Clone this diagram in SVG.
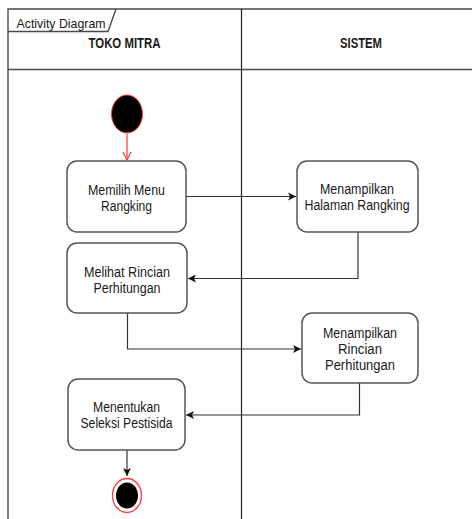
<svg xmlns="http://www.w3.org/2000/svg" width="472" height="519" viewBox="0 0 472 519">
  <style>
    .frame { fill: none; stroke: #4a4a4a; stroke-width: 1.4; }
    .lane { fill: none; stroke: #222; stroke-width: 1.2; }
    .act { fill: #fff; stroke: #555; stroke-width: 1.5; }
    .lbl { font-family: "Liberation Sans", Arial, sans-serif; font-size: 14px; fill: #1a1a1a; text-anchor: middle; }
    .hdr { font-family: "Liberation Sans", Arial, sans-serif; font-size: 14.5px; font-weight: bold; fill: #1a1a1a; text-anchor: middle; }
    .edge { fill: none; stroke: #333; stroke-width: 1.2; }
  </style>
  <defs>
    <marker id="arrow" markerWidth="10" markerHeight="10" refX="9" refY="5" orient="auto" markerUnits="userSpaceOnUse">
      <path d="M1,1 L9,5 L1,9 L3,5 Z" fill="#111"/>
    </marker>
    <marker id="openRed" markerWidth="12" markerHeight="12" refX="10" refY="6" orient="auto" markerUnits="userSpaceOnUse">
      <path d="M2,2 L10,6 L2,10" fill="none" stroke="#ff3b3b" stroke-width="1.2"/>
    </marker>
  </defs>

  <rect width="472" height="519" fill="#fff"/>

  <!-- swimlane frame -->
  <g id="pool">
    <path class="frame" d="M8,519 L8,9 L480,9"/>
    <line class="frame" x1="8" y1="69.5" x2="480" y2="69.5"/>
    <line class="lane" x1="241.5" y1="9" x2="241.5" y2="519"/>
    <path class="frame" d="M8,31.5 L108,31.5 L116,9"/>
    <text class="lbl" x="16.5" y="27.5" style="text-anchor:start;font-size:13.5px" textLength="89" lengthAdjust="spacingAndGlyphs">Activity Diagram</text>
    <text class="hdr" x="124.5" y="48" textLength="72" lengthAdjust="spacingAndGlyphs">TOKO MITRA</text>
    <text class="hdr" x="361" y="48" textLength="42" lengthAdjust="spacingAndGlyphs">SISTEM</text>
  </g>

  <!-- connectors -->
  <g id="connectors">
    <line x1="127" y1="134" x2="127" y2="160" fill="none" stroke="#ff3b3b" stroke-width="1.2" marker-end="url(#openRed)"/>
    <path class="edge" d="M186,196.5 L296,196.5" marker-end="url(#arrow)"/>
    <path class="edge" d="M358,232 L358,278.5 L188,278.5" marker-end="url(#arrow)"/>
    <path class="edge" d="M127.5,313 L127.5,349 L301,349" marker-end="url(#arrow)"/>
    <path class="edge" d="M359.5,383 L359.5,415 L186,415" marker-end="url(#arrow)"/>
    <path class="edge" d="M127,450 L127,476" marker-end="url(#arrow)"/>
  </g>

  <!-- initial node -->
  <g id="start">
    <ellipse cx="127" cy="114" rx="15.5" ry="19" fill="#000" stroke="#ff3b3b" stroke-width="1"/>
  </g>

  <g id="memilih-menu">
    <rect class="act" x="67" y="161" width="119" height="71" rx="10"/>
    <text class="lbl" x="126.5" y="195" textLength="77" lengthAdjust="spacingAndGlyphs">Memilih Menu</text>
    <text class="lbl" x="126.5" y="210.5" textLength="51" lengthAdjust="spacingAndGlyphs">Rangking</text>
  </g>

  <g id="menampilkan-halaman">
    <rect class="act" x="297" y="161" width="121" height="71" rx="10"/>
    <text class="lbl" x="357" y="193.5" textLength="74" lengthAdjust="spacingAndGlyphs">Menampilkan</text>
    <text class="lbl" x="357" y="210" textLength="105" lengthAdjust="spacingAndGlyphs">Halaman Rangking</text>
  </g>

  <g id="melihat-rincian">
    <rect class="act" x="67" y="243" width="120" height="70" rx="10"/>
    <text class="lbl" x="127" y="277" textLength="86" lengthAdjust="spacingAndGlyphs">Melihat Rincian</text>
    <text class="lbl" x="127" y="293" textLength="67" lengthAdjust="spacingAndGlyphs">Perhitungan</text>
  </g>

  <g id="menampilkan-rincian">
    <rect class="act" x="302" y="313" width="116" height="70" rx="10"/>
    <text class="lbl" x="360" y="337.5" textLength="74" lengthAdjust="spacingAndGlyphs">Menampilkan</text>
    <text class="lbl" x="360" y="354" textLength="44" lengthAdjust="spacingAndGlyphs">Rincian</text>
    <text class="lbl" x="360" y="370" textLength="70" lengthAdjust="spacingAndGlyphs">Perhitungan</text>
  </g>

  <g id="menentukan-seleksi">
    <rect class="act" x="68" y="379" width="117" height="71" rx="10"/>
    <text class="lbl" x="126.5" y="411.5" textLength="67" lengthAdjust="spacingAndGlyphs">Menentukan</text>
    <text class="lbl" x="126.5" y="428" textLength="92" lengthAdjust="spacingAndGlyphs">Seleksi Pestisida</text>
  </g>

  <!-- final node -->
  <g id="end">
    <ellipse cx="127" cy="495.5" rx="14.5" ry="17" fill="#fff" stroke="#ff3b3b" stroke-width="1.3"/>
    <ellipse cx="127" cy="495.5" rx="11" ry="13" fill="#000"/>
  </g>
</svg>
